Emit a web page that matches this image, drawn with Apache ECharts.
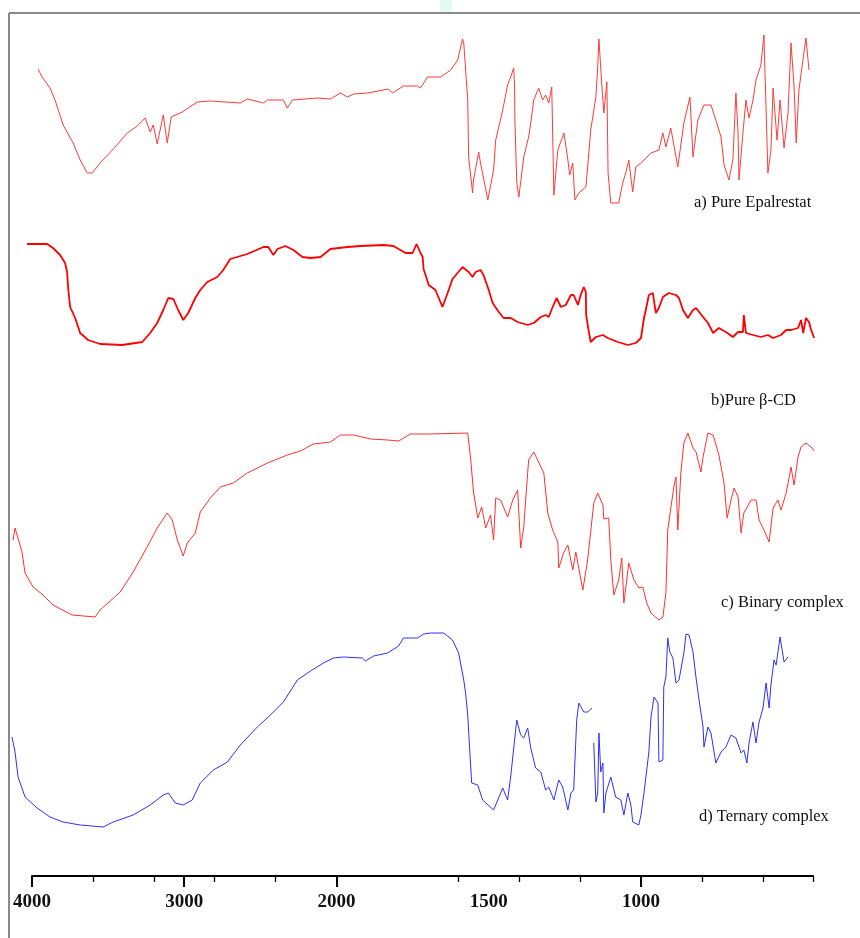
<!DOCTYPE html>
<html><head><meta charset="utf-8">
<script src="https://cdn.jsdelivr.net/npm/echarts@6/dist/echarts.min.js"></script>
<style>html,body{margin:0;padding:0;background:#fff}#c{width:860px;height:938px}</style>
</head><body><div id="c"></div>
<script>
// ---- Data (wavenumber cm-1, relative transmittance) ----
const waveA = [3961,3934,3882,3849,3796,3730,3684,3638,3605,3553,3454,3375,3309,3257,3224,3204,3178,3138,3112,3086,3013,2915,2829,2632,2586,2480,2454,2349,2323,2290,2125,2040,1987,1964,1944,1898,1829,1816,1780,1734,1724,1701,1658,1625,1602,1586,1582,1569,1566,1553,1550,1533,1527,1503,1484,1477,1454,1438,1428,1418,1415,1414,1408,1401,1385,1369,1362,1352,1336,1323,1313,1303,1293,1286,1273,1253,1240,1234,1224,1217,1204,1181,1175,1165,1148,1142,1138,1129,1122,1112,1109,1108,1099,1073,1060,1050,1040,1027,1017,1000,990,967,941,928,918,902,879,859,839,829,813,793,770,754,737,727,711,698,688,681,678,665,655,645,632,622,606,596,583,573,566,553,543,530,517,507,497,490,481,471,458,448];
const transA = [75.5,71.5,66,60,47.5,38.5,30,23.5,23.5,28.5,36.5,43.5,47,51,44,47.5,38,52.5,38.5,51.5,54,59,59.5,58.5,60.5,58.5,60,60,56,60,61,60.5,63.5,61.5,63,63.5,65.5,63.5,67,67,66,71.5,71.5,75,80,90.5,88.5,60,31.5,13.5,20,34,28.5,10,25,40,55,67.5,71.5,76,66.5,50,19,11.5,31.5,41.5,48.5,60,66,60,62.5,58.5,66.5,12.5,35,43.5,30,22.5,28.5,10,13.5,16.5,26.5,45,61.5,76.5,90.5,68.5,53.5,69,69,23.5,8.5,8.5,18.5,23.5,30,14,26.5,28.5,30,33.5,35,43.5,36.5,46,26.5,48.5,61.5,31.5,50,57.5,57.5,50,41.5,27.5,20,30,63.5,43.5,20,43.5,60,51,60,70,77.5,92.5,23.5,35,66,40,60,36,53.5,88.5,66.5,38.5,65,76.5,91,75];

const waveB = [4033,3901,3862,3816,3783,3770,3763,3750,3717,3684,3632,3553,3408,3276,3224,3178,3138,3105,3072,3040,3007,2974,2928,2895,2849,2783,2744,2698,2586,2480,2448,2415,2388,2336,2283,2224,2171,2105,2040,1964,1921,1845,1813,1773,1750,1737,1724,1717,1714,1697,1691,1675,1652,1635,1619,1586,1566,1553,1543,1527,1517,1500,1487,1467,1451,1428,1405,1372,1352,1329,1313,1303,1290,1277,1263,1247,1230,1221,1207,1198,1188,1181,1180,1171,1165,1148,1125,1109,1076,1043,1017,1000,990,984,974,961,951,941,928,908,885,875,862,846,829,819,796,780,763,744,721,698,681,665,662,655,632,606,583,566,540,523,507,484,474,467,458,448,441,431];
const transB = [90.5,90.5,88.5,85,81,76.5,68.5,59,53.5,46,42.5,40.5,40,41.5,46,51,57.5,63.5,63,57.5,52.5,56,63.5,67.5,71.5,74,77.5,83,85.5,89,89,85,88,89.5,87.5,84,83.5,84,88,89,89.5,90,89.5,86,86,90.5,86,84,78,70,69,67.5,59,66,73,79,76.5,74,76.5,77.5,75,67.5,61,56.5,53.5,53.5,51.5,50,51,54,55,54,59,63.5,59,60,65,65,60,65,69,66.5,55,46.5,41.5,44,45,43.5,41.5,40,41,43.5,53.5,57.5,65,66,56,58.5,64,66,65,63.5,57.5,53.5,57.5,58.5,54,51,46,48.5,46.5,44,46.5,46.5,55,46,45,44,45,43.5,45,47.5,47.5,48.5,52.5,46,53.5,51.5,47.5,43.5];

const waveC = [4125,4112,4066,4046,3993,3928,3862,3737,3586,3553,3421,3336,3244,3178,3112,3079,3046,3007,2980,2928,2895,2829,2763,2678,2586,2454,2323,2237,2152,2040,1987,1944,1888,1832,1796,1757,1691,1569,1559,1550,1536,1523,1510,1494,1484,1477,1461,1438,1421,1405,1395,1385,1369,1352,1319,1306,1290,1273,1270,1253,1240,1224,1214,1191,1175,1155,1142,1125,1122,1106,1099,1089,1073,1063,1056,1040,1023,1007,994,981,967,941,928,918,912,892,885,879,869,859,846,829,819,803,796,780,763,744,727,717,704,694,681,671,662,638,622,612,596,579,566,550,540,523,507,497,484,474,458,441,431];
const transC = [42.5,48.5,36.5,26,19,15,10,5,4,7.5,16.5,26.5,39,48.5,56,52.5,42.5,34.5,41,46,56.5,63.5,69,71,76,81,85,87,90.5,91.5,95,95,93,92.5,92,95.5,95.5,96,82.5,66.5,53.5,59,48.5,55,42.5,63.5,62.5,54,62.5,67.5,38.5,49,82.5,86.5,76,56,47.5,41.5,28.5,36.5,40,27.5,36.5,17.5,32.5,61,66,60,53,53.5,32.5,15,22.5,33.5,11,31,22.5,18.5,19,11,6,2.5,4,16,47.5,69,74,47.5,76,91,96,88.5,86.5,76.5,84,96,95,85,71,53.5,62.5,68.5,64,46,56,62.5,62.5,52.5,47.5,41.5,58.5,62.5,57.5,66,79,70,84,89,91,89,87];

const waveD = [4132,4112,4092,4046,3967,3882,3796,3684,3533,3467,3336,3224,3138,3105,3059,3007,2948,2895,2809,2717,2632,2520,2434,2349,2257,2171,2086,2020,1977,1915,1905,1878,1832,1796,1780,1734,1714,1691,1648,1619,1599,1582,1576,1569,1563,1556,1536,1520,1484,1454,1438,1428,1408,1395,1385,1372,1362,1346,1329,1313,1303,1286,1270,1257,1240,1230,1221,1211,1204,1188,1175,1161,1158,1155,1148,1142,1138,1132,1125,1122,1115,1099,1083,1066,1056,1043,1033,1027,1007,1000,990,974,967,957,944,941,928,925,918,912,905,895,885,875,859,852,842,829,819,810,796,793,780,770,754,737,721,704,688,671,662,652,645,632,622,612,599,589,579,573,563,556,543,530,517];
const transD = [46.5,39,26.5,16.5,11,6.5,4,2.5,1.5,4,7.5,12.5,17.5,18.5,13.5,12.5,15,23.5,30,34,42.5,51.5,57.5,64,75,79.5,83.5,86,86.5,86,84.5,87,88.5,92,96,96,98,98.5,98.5,95,88.5,75,68.5,57.5,41.5,23.5,22.5,15,10,21,15,26.5,55,47.5,46,51,41,31,29,20,21.5,15,25,21.5,10,18.5,20,55,63.5,59,59,61,null,43.5,14,18.5,48.5,29,33.5,8.5,18.5,26.5,16.5,15,7.5,18.5,12.5,4,2.5,7.5,18.5,39,56.5,66.5,63.5,34,35,71.5,76.5,96,89,86,73.5,75,88.5,98,97.5,89,76,66,51.5,41.5,51.5,48.5,33.5,39,41.5,47.5,46,38.5,40,33.5,43.5,54,43.5,54,61,73.5,61,72.5,85,82.5,96.5,84,86.5];

const seriesNames = ['a) Pure Epalrestat', 'b)Pure β-CD', 'c) Binary complex', 'd) Ternary complex'];
const axisLabelWaves = [4000, 3000, 2000, 1500, 1000];
const majorTickWaves = [4000, 3000, 2000, 1000];
const minorTickWaves = [3600, 3200, 2800, 2400, 1600, 1400, 1200, 800, 600, 435];
const PLOT_START = 4145, PLOT_END = 425, AXIS_START = 4000, AXIS_END = 435;

// Axis scale: 4000-2000 compressed 2x relative to 2000-400 (as in instrument plot)
function toU(w) { return w >= 2000 ? (4000 - w) / 2 : 1000 + (2000 - w); }
function fromU(u) { return u <= 1000 ? 4000 - 2 * u : 2000 - (u - 1000); }

const traces = [
  { w: waveA, t: transA, color: '#ff3a3a', width: 1 },
  { w: waveB, t: transB, color: '#ff0000', width: 1.8 },
  { w: waveC, t: transC, color: '#ff3030', width: 1 },
  { w: waveD, t: transD, color: '#2f2fff', width: 1 }
];
const gridTops = [20, 225, 425, 630];

const grids = gridTops.map(t => ({ left: 10, width: 806, top: t, height: 200 }));
grids.push({ left: 32, width: 781, top: 860, height: 16 });

const xAxes = traces.map((_, i) => ({
  type: 'value', gridIndex: i, min: toU(PLOT_START), max: toU(PLOT_END), show: false
}));
const yAxes = traces.map((_, i) => ({ type: 'value', gridIndex: i, min: 0, max: 100, show: false }));

xAxes.push({
  type: 'value', gridIndex: 4, position: 'bottom', min: toU(AXIS_START), max: toU(AXIS_END),
  axisLine: { show: true, lineStyle: { color: '#000', width: 2 } },
  axisTick: { show: true, customValues: minorTickWaves.map(toU), length: 6, lineStyle: { color: '#000', width: 1.3 } },
  axisLabel: { show: false }, splitLine: { show: false }
});
xAxes.push({
  type: 'value', gridIndex: 4, position: 'bottom', min: toU(AXIS_START), max: toU(AXIS_END),
  axisLine: { show: false },
  axisTick: { show: true, customValues: majorTickWaves.map(toU), length: 11, lineStyle: { color: '#000', width: 2 } },
  axisLabel: {
    show: true, customValues: axisLabelWaves.map(toU),
    formatter: v => String(Math.round(fromU(v))),
    fontFamily: 'Liberation Serif', fontSize: 19, fontWeight: 'bold', color: '#111', margin: 17
  },
  splitLine: { show: false }
});
yAxes.push({ type: 'value', gridIndex: 4, min: 0, max: 1, show: false });

const series = traces.map((tr, i) => ({
  type: 'line', name: seriesNames[i], xAxisIndex: i, yAxisIndex: i,
  data: tr.w.map((w, j) => [toU(w), tr.t[j] === null ? '-' : tr.t[j]]),
  showSymbol: false, symbol: 'none', connectNulls: false,
  lineStyle: { color: tr.color, width: tr.width }, silent: true
}));

const labelPos = [[694, 203], [711, 401], [721, 603], [699, 817]];
const graphic = [
  { type: 'line', shape: { x1: 9, y1: 13, x2: 860, y2: 13 }, style: { stroke: '#8a8a8a', lineWidth: 2 } },
  { type: 'line', shape: { x1: 9, y1: 13, x2: 9, y2: 938 }, style: { stroke: '#8a8a8a', lineWidth: 2 } },
  { type: 'rect', shape: { x: 440, y: 0, width: 12, height: 12 }, style: { fill: '#e3faf6' } }
];
seriesNames.forEach((n, i) => graphic.push({
  type: 'text', x: labelPos[i][0], y: labelPos[i][1],
  style: { text: n, font: '16.5px "Liberation Serif"', fill: '#111', verticalAlign: 'middle' }
}));

const chart = echarts.init(document.getElementById('c'));
chart.setOption({
  animation: false, backgroundColor: '#fff',
  grid: grids, xAxis: xAxes, yAxis: yAxes, series: series, graphic: graphic
});
</script></body></html>
